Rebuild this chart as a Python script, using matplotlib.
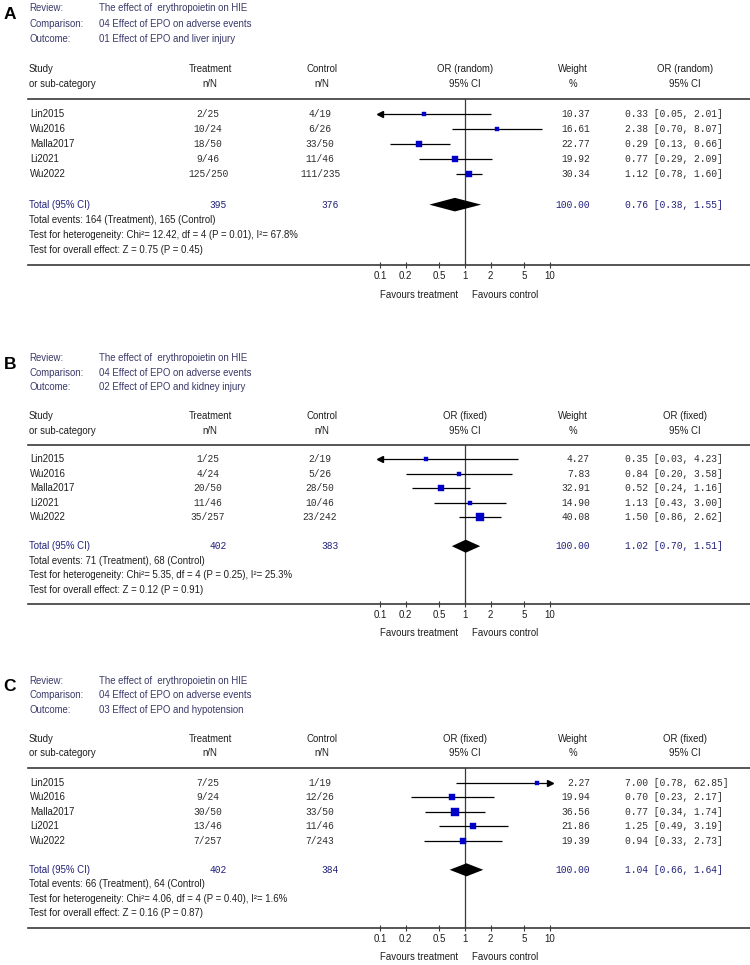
import matplotlib
matplotlib.use("Agg")
import matplotlib.pyplot as plt
import matplotlib.transforms as mtransforms

W, H = 750, 965

# ---------------- data ----------------
studies = ["Lin2015", "Wu2016", "Malla2017", "Li2021", "Wu2022"]
review = "The effect of  erythropoietin on HIE"
comparison = "04 Effect of EPO on adverse events"

A_outcome = "01 Effect of EPO and liver injury"
A_model = "random"
A_treat = ["2/25", "10/24", "18/50", "9/46", "125/250"]
A_ctrl = ["4/19", "6/26", "33/50", "11/46", "111/235"]
A_or = [0.33, 2.38, 0.29, 0.77, 1.12]
A_lo = [0.05, 0.70, 0.13, 0.29, 0.78]
A_hi = [2.01, 8.07, 0.66, 2.09, 1.60]
A_w = [10.37, 16.61, 22.77, 19.92, 30.34]
A_wtot = 100.00
A_tot = [395, 376]
A_pooled = [0.76, 0.38, 1.55]
A_events = [164, 165]
A_het = ["12.42", "4", "0.01", "67.8"]
A_z = ["0.75", "0.45"]

B_outcome = "02 Effect of EPO and kidney injury"
B_model = "fixed"
B_treat = ["1/25", "4/24", "20/50", "11/46", "35/257"]
B_ctrl = ["2/19", "5/26", "28/50", "10/46", "23/242"]
B_or = [0.35, 0.84, 0.52, 1.13, 1.50]
B_lo = [0.03, 0.20, 0.24, 0.43, 0.86]
B_hi = [4.23, 3.58, 1.16, 3.00, 2.62]
B_w = [4.27, 7.83, 32.91, 14.90, 40.08]
B_wtot = 100.00
B_tot = [402, 383]
B_pooled = [1.02, 0.70, 1.51]
B_events = [71, 68]
B_het = ["5.35", "4", "0.25", "25.3"]
B_z = ["0.12", "0.91"]

C_outcome = "03 Effect of EPO and hypotension"
C_model = "fixed"
C_treat = ["7/25", "9/24", "30/50", "13/46", "7/257"]
C_ctrl = ["1/19", "12/26", "33/50", "11/46", "7/243"]
C_or = [7.00, 0.70, 0.77, 1.25, 0.94]
C_lo = [0.78, 0.23, 0.34, 0.49, 0.33]
C_hi = [62.85, 2.17, 1.74, 3.19, 2.73]
C_w = [2.27, 19.94, 36.56, 21.86, 19.39]
C_wtot = 100.00
C_tot = [402, 384]
C_pooled = [1.04, 0.66, 1.64]
C_events = [66, 64]
C_het = ["4.06", "4", "0.40", "1.6"]
C_z = ["0.16", "0.87"]

tick_vals = [0.1, 0.2, 0.5, 1, 2, 5, 10]
tick_labels = ["0.1", "0.2", "0.5", "1", "2", "5", "10"]

# ---------------- style ----------------
SANS = ["Liberation Sans", "DejaVu Sans"]
MONO = ["Liberation Mono", "DejaVu Sans Mono"]
plt.rcParams["font.family"] = SANS
HEADC = "#3a3a6a"
NAVY = "#22227a"
TXT = "#1e1e1e"
LINEC = "#3a3a3a"
BLUE = "#0000c8"
FS = 6.9
MFS = 6.9

fig = plt.figure(figsize=(W / 100, H / 100), dpi=100)

X1_PX, DEC_PX = 465.0, 85.0
LEFT_PX, RIGHT_PX = 28.0, 750.0
xmin = 10 ** ((LEFT_PX - X1_PX) / DEC_PX)
xmax = 10 ** ((RIGHT_PX - X1_PX) / DEC_PX)

panels = [
    ("A", 99, 265, A_outcome, A_model, A_treat, A_ctrl, A_or, A_lo, A_hi, A_w, A_wtot,
     A_tot, A_pooled, A_events, A_het, A_z),
    ("B", 445, 604, B_outcome, B_model, B_treat, B_ctrl, B_or, B_lo, B_hi, B_w, B_wtot,
     B_tot, B_pooled, B_events, B_het, B_z),
    ("C", 768, 928, C_outcome, C_model, C_treat, C_ctrl, C_or, C_lo, C_hi, C_w, C_wtot,
     C_tot, C_pooled, C_events, C_het, C_z),
]


def fx(px):
    return px / W


for (lab, top, bot, outcome, model, treat, ctrl, orv, lo, hi, w, wtot,
     tot, pooled, events, het, z) in panels:
    ax = fig.add_axes([fx(LEFT_PX), 1 - bot / H, (RIGHT_PX - LEFT_PX) / W, (bot - top) / H])
    ax.set_xscale("log")
    ax.set_xlim(xmin, xmax)
    ax.set_ylim(11, 0)
    ax.patch.set_alpha(0)
    for s in ["left", "right"]:
        ax.spines[s].set_visible(False)
    for s in ["top", "bottom"]:
        ax.spines[s].set_color(LINEC)
        ax.spines[s].set_linewidth(1.2)
    ax.set_yticks([])
    ax.set_xticks(tick_vals)
    ax.set_xticklabels(tick_labels)
    ax.minorticks_off()
    ax.tick_params(axis="x", direction="inout", length=5, width=0.8, color=LINEC,
                   labelsize=7.0, pad=1.5, labelcolor=TXT)
    ax.axvline(1, color=LINEC, lw=0.9, zorder=1)

    tr = mtransforms.blended_transform_factory(fig.transFigure, ax.transData)

    def T(px, row, s, ha="left", color=TXT, mono=False, size=None, **kw):
        ax.text(fx(px), row, s, transform=tr, ha=ha, va="center", color=color,
                family=MONO if mono else SANS, fontsize=size or (MFS if mono else FS),
                clip_on=False, **kw)

    # panel letter and review info
    T(10, -5.6, lab, ha="center", color="black", size=12.5, fontweight="bold")
    for r, (k, v) in zip([-6, -5, -4], [("Review:", review), ("Comparison:", comparison),
                                        ("Outcome:", outcome)]):
        T(29, r, k, color=HEADC)
        T(99, r, v, color=HEADC)

    # headers
    T(29, -2, "Study")
    T(29, -1, "or sub-category")
    for cx, h1, h2 in [(210, "Treatment", "n/N"), (322, "Control", "n/N"),
                       (465, f"OR ({model})", "95% CI"), (573, "Weight", "%"),
                       (685, f"OR ({model})", "95% CI")]:
        T(cx, -2, h1, ha="center")
        T(cx, -1, h2, ha="center")

    # study rows
    for i, name in enumerate(studies):
        row = i + 1
        T(30, row, name)
        T(208, row, treat[i], ha="center", mono=True, color="#303030")
        T(320, row, ctrl[i], ha="center", mono=True, color="#303030")
        T(590, row, f"{w[i]:.2f}", ha="right", mono=True, color="#303030")
        T(625, row, f"{orv[i]:.2f} [{lo[i]:.2f}, {hi[i]:.2f}]", mono=True, color="#303030")

        l_c = max(lo[i], tick_vals[0])
        h_c = min(hi[i], tick_vals[-1])
        ax.plot([l_c, h_c], [row, row], color="black", lw=0.9, zorder=2, solid_capstyle="butt")
        if lo[i] < tick_vals[0]:
            ax.plot([l_c], [row], marker="<", ms=5, color="black", mec="black", zorder=3)
        if hi[i] > tick_vals[-1]:
            ax.plot([h_c], [row], marker=">", ms=5, color="black", mec="black", zorder=3)
        msz = (3.0 + 0.12 * w[i]) * 0.72
        ax.plot([orv[i]], [row], marker="s", ms=msz, color=BLUE, mec=BLUE, mew=0.3, zorder=4)

    # total row
    T(29, 7, "Total (95% CI)", color=NAVY)
    T(218, 7, str(tot[0]), ha="center", mono=True, color=NAVY)
    T(330, 7, str(tot[1]), ha="center", mono=True, color=NAVY)
    T(590, 7, f"{wtot:.2f}", ha="right", mono=True, color=NAVY)
    T(625, 7, f"{pooled[0]:.2f} [{pooled[1]:.2f}, {pooled[2]:.2f}]", mono=True, color=NAVY)
    ax.fill([pooled[1], pooled[0], pooled[2], pooled[0]], [7, 6.55, 7, 7.45],
            color="black", lw=0, zorder=4)

    T(29, 8, f"Total events: {events[0]} (Treatment), {events[1]} (Control)")
    T(29, 9, f"Test for heterogeneity: Chi\u00b2= {het[0]}, df = {het[1]} (P = {het[2]}), I\u00b2= {het[3]}%")
    T(29, 10, f"Test for overall effect: Z = {z[0]} (P = {z[1]})")

    ax.annotate("Favours treatment", xy=(1, 13), xycoords="data", xytext=(-5, 0),
                textcoords="offset points", ha="right", va="center", fontsize=FS,
                color=TXT, annotation_clip=False)
    ax.annotate("Favours control", xy=(1, 13), xycoords="data", xytext=(5, 0),
                textcoords="offset points", ha="left", va="center", fontsize=FS,
                color=TXT, annotation_clip=False)

fig.savefig("out.png", dpi=100, facecolor="white")
